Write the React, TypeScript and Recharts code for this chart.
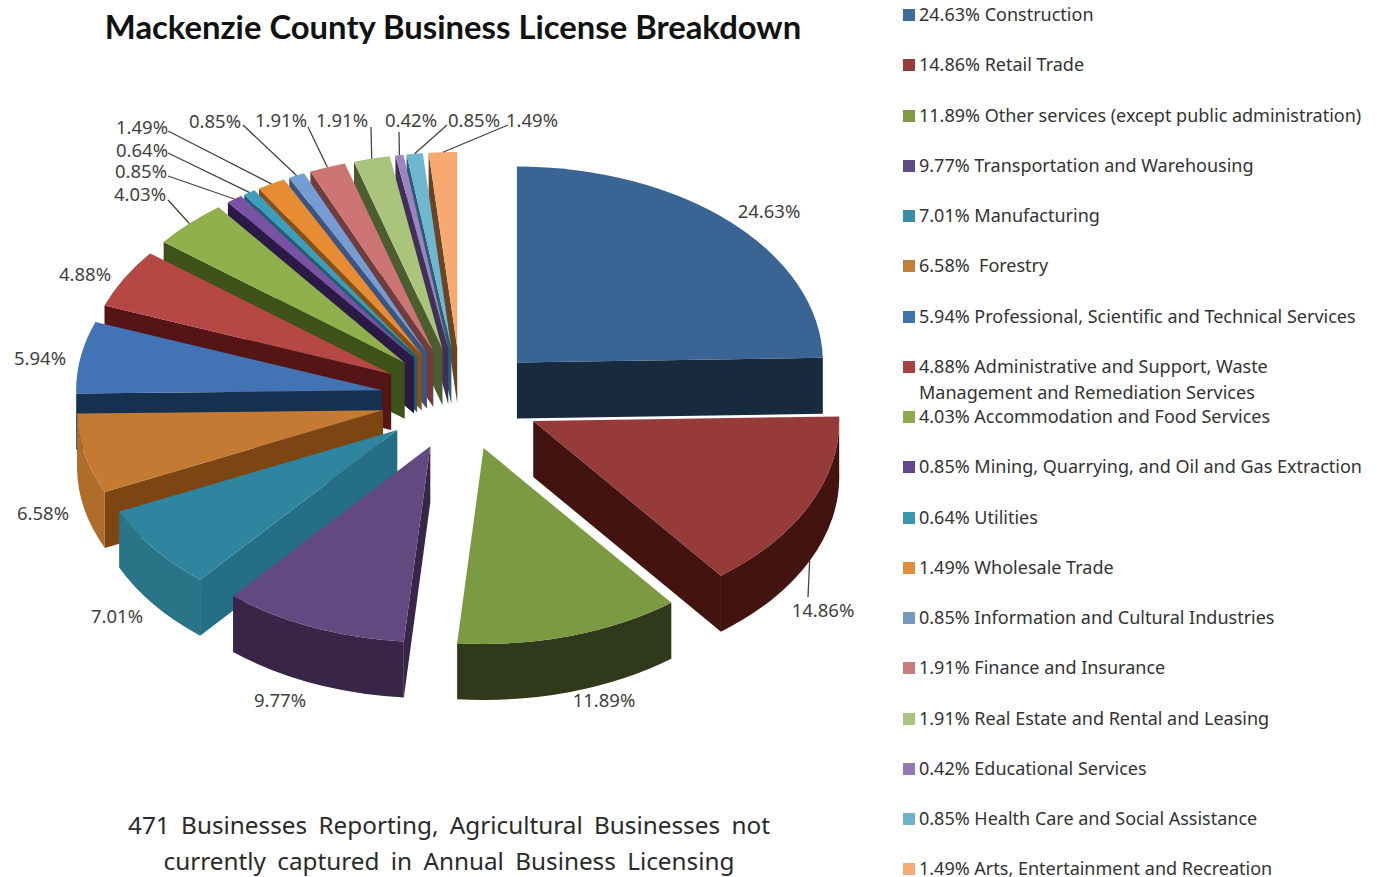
import { Pie, PieChart } from 'recharts';

const names = [
  'Construction', 'Retail Trade', 'Other services (except public administration)', 'Transportation and Warehousing',
  'Manufacturing', ' Forestry', 'Professional, Scientific and Technical Services',
  'Administrative and Support, Waste Management and Remediation Services', 'Accommodation and Food Services',
  'Mining, Quarrying, and Oil and Gas Extraction', 'Utilities', 'Wholesale Trade', 'Information and Cultural Industries',
  'Finance and Insurance', 'Real Estate and Rental and Leasing', 'Educational Services',
  'Health Care and Social Assistance', 'Arts, Entertainment and Recreation',
];
const shares = [24.63, 14.86, 11.89, 9.77, 7.01, 6.58, 5.94, 4.88, 4.03, 0.85, 0.64, 1.49, 0.85, 1.91, 1.91, 0.42, 0.85, 1.49];

const topColors = [
  '#3a6494', '#963a3a', '#7c9a42', '#624a80', '#2f859f', '#c47a32', '#4273b4', '#b54745', '#90b04e',
  '#7a52a4', '#3e9dbb', '#e88c34', '#769cd4', '#cd7474', '#abc47c', '#9b84c0', '#6fb7d0', '#f8a96f',
];
const rimColors = [
  '#172a3e', '#43140f', '#30391a', '#382548', '#2a7488', '#b06c2a', '#16304f', '#551516', '#3d5219',
  '#2b1a45', '#1f5f73', '#8a4f12', '#3b5580', '#703c3c', '#4c5e30', '#403058', '#2c5d72', '#694526',
];
const cutColors = [
  '#172a3e', '#43140f', '#30391a', '#382548', '#246f86', '#7c4512', '#16304f', '#551516', '#3d5219',
  '#2b1a45', '#1f5f73', '#8a4f12', '#3b5580', '#703c3c', '#4c5e30', '#403058', '#2c5d72', '#694526',
];
const legendColors = [
  '#3f6b9b', '#963d3b', '#7f9a48', '#5f4a82', '#398ca6', '#c17f3a', '#4272ab', '#a94342', '#8ba94d',
  '#64468f', '#3b97ad', '#e08e3c', '#7499bd', '#c87b7b', '#a9c47e', '#9378b3', '#6eb3c9', '#f3ab78',
];

// centre of each percent label, and the label-side end of its leader (if it has one)
const labelSpots = [
  [769, 210], [823, 609], [604, 699], [280, 699], [117, 615], [43, 512], [40, 357], [85, 273], [140, 193],
  [141, 170], [142, 149], [142, 126], [215, 120], [281, 119], [342, 119], [411, 119], [474, 119], [532, 119],
];
const leaderEnds = [
  null, [808, 597], null, null, null, null, null, null, [168, 200],
  [168, 176], [168, 153], [168, 131], [243, 125], [308, 127], [371, 127], [399, 132], [447, 125], [508, 125],
];

const rows = names.map((name, i) => ({
  name,
  value: shares[i],
  fill: topColors[i],
  rim: rimColors[i],
  cut: cutColors[i],
  spot: labelSpots[i],
  leader: leaderEnds[i],
}));

// Four big front slices run clockwise from 12 o'clock, the rest run the other way,
// so the paint order ends up back-to-front like the 3D original.
const frontRows = rows.slice(0, 4);
const backRows = rows.slice(4).reverse();
const frontSweep = (frontRows.reduce((s, r) => s + r.value, 0) / 100) * 360;
const backSweep = (backRows.reduce((s, r) => s + r.value, 0) / 100) * 360;

const SQUASH = 0.64;
const DEPTH = 56;
const EXPLODE = 80;
const RAD = Math.PI / 180;

function geometry(props: any) {
  const { cx, cy, outerRadius, startAngle, endAngle } = props;
  const a1 = Math.max(startAngle, endAngle);
  const a2 = Math.min(startAngle, endAngle);
  const mid = (a1 + a2) / 2;
  const ox = cx + EXPLODE * Math.cos(mid * RAD);
  const oy = cy - EXPLODE * SQUASH * Math.sin(mid * RAD);
  const rx = outerRadius;
  const ry = outerRadius * SQUASH;
  const at = (a: number, r = 1) => [ox + r * rx * Math.cos(a * RAD), oy - r * ry * Math.sin(a * RAD)];
  return { a1, a2, mid, ox, oy, rx, ry, at };
}

function Slice3D(props: any) {
  const { fill } = props;
  const row = props.payload ?? props;
  const { a1, a2, mid, ox, oy, rx, ry, at } = geometry(props);
  const [x1, y1] = at(a1);
  const [x2, y2] = at(a2);
  const [mx, my] = at(mid);

  // a cut face shows only if moving straight down leaves the slice
  const faceShows = (ex: number, ey: number) => {
    const side = (ex - ox) * (my - oy) - (ey - oy) * (mx - ox);
    const down = ex - ox;
    return side * down < 0;
  };
  const face = (ex: number, ey: number) =>
    `M${ox},${oy} L${ex},${ey} L${ex},${ey + DEPTH} L${ox},${oy + DEPTH} Z`;

  return (
    <g>
      {faceShows(x1, y1) && <path d={face(x1, y1)} fill={row.cut} />}
      {faceShows(x2, y2) && <path d={face(x2, y2)} fill={row.cut} />}
      {Math.sin(mid * RAD) < 0 && (
        <path
          d={`M${x1},${y1} A${rx},${ry} 0 0 1 ${x2},${y2} L${x2},${y2 + DEPTH} A${rx},${ry} 0 0 0 ${x1},${y1 + DEPTH} Z`}
          fill={row.rim}
        />
      )}
      <path d={`M${ox},${oy} L${x1},${y1} A${rx},${ry} 0 0 1 ${x2},${y2} Z`} fill={fill} />
    </g>
  );
}

function SliceLabel(props: any) {
  const row = props.payload ?? props;
  const { mid, at } = geometry(props);
  const [sx, sy] = at(mid);
  const startY = Math.sin(mid * RAD) < 0 ? sy + DEPTH : sy;
  return (
    <g>
      {row.leader && (
        <line x1={sx} y1={startY} x2={row.leader[0]} y2={row.leader[1]} stroke="#444" strokeWidth={1.3} />
      )}
      <text
        x={row.spot[0]}
        y={row.spot[1]}
        textAnchor="middle"
        dominantBaseline="central"
        fontFamily="'Noto Sans'"
        fontSize={18.5}
        fill="#3f3f3f"
      >
        {row.value.toFixed(2)}%
      </text>
    </g>
  );
}

const captionLines = [
  '471 Businesses Reporting, Agricultural Businesses not',
  'currently captured in Annual Business Licensing',
];

export default function App() {
  return (
    <div style={{ position: 'absolute', left: 0, top: 0, width: 1377, height: 877, overflow: 'hidden', background: '#fff' }}>
      <div
        style={{
          position: 'absolute', left: 0, top: 8, width: 906, textAlign: 'center',
          fontFamily: 'Lato', fontWeight: 700, fontSize: 32.8, lineHeight: '38px', color: '#111',
        }}
      >
        Mackenzie County Business License Breakdown
      </div>

      <PieChart width={900} height={780} margin={{ top: 0, right: 0, bottom: 0, left: 0 }}>
        <Pie
          data={backRows}
          dataKey="value"
          nameKey="name"
          cx={461}
          cy={399}
          outerRadius={306}
          startAngle={90}
          endAngle={90 + backSweep}
          stroke="none"
          shape={Slice3D}
          label={SliceLabel}
          labelLine={false}
          isAnimationActive={false}
        />
        <Pie
          data={frontRows}
          dataKey="value"
          nameKey="name"
          cx={461}
          cy={399}
          outerRadius={306}
          startAngle={90}
          endAngle={90 - frontSweep}
          stroke="none"
          shape={Slice3D}
          label={SliceLabel}
          labelLine={false}
          isAnimationActive={false}
        />
      </PieChart>

      <div
        style={{
          position: 'absolute', left: 0, top: 807, width: 898, textAlign: 'center',
          fontFamily: "'Noto Sans'", fontSize: 24.3, lineHeight: '36px', wordSpacing: 5, color: '#2a2a2a',
        }}
      >
        {captionLines.map((line) => (
          <div key={line}>{line}</div>
        ))}
      </div>

      <div style={{ position: 'absolute', left: 903, top: 0, width: 470 }}>
        {rows.map((r, i) => (
          <div
            key={r.name}
            style={{
              position: 'absolute', left: 0, top: 1 + i * 50.25, width: 446, paddingLeft: 16,
              fontFamily: "'Noto Sans'", fontSize: 18, lineHeight: '26px', color: '#333', whiteSpace: 'pre-wrap',
            }}
          >
            <span style={{ position: 'absolute', left: 0, top: 8, width: 12, height: 12, background: legendColors[i] }} />
            {r.value.toFixed(2)}% {r.name}
          </div>
        ))}
      </div>
    </div>
  );
}
